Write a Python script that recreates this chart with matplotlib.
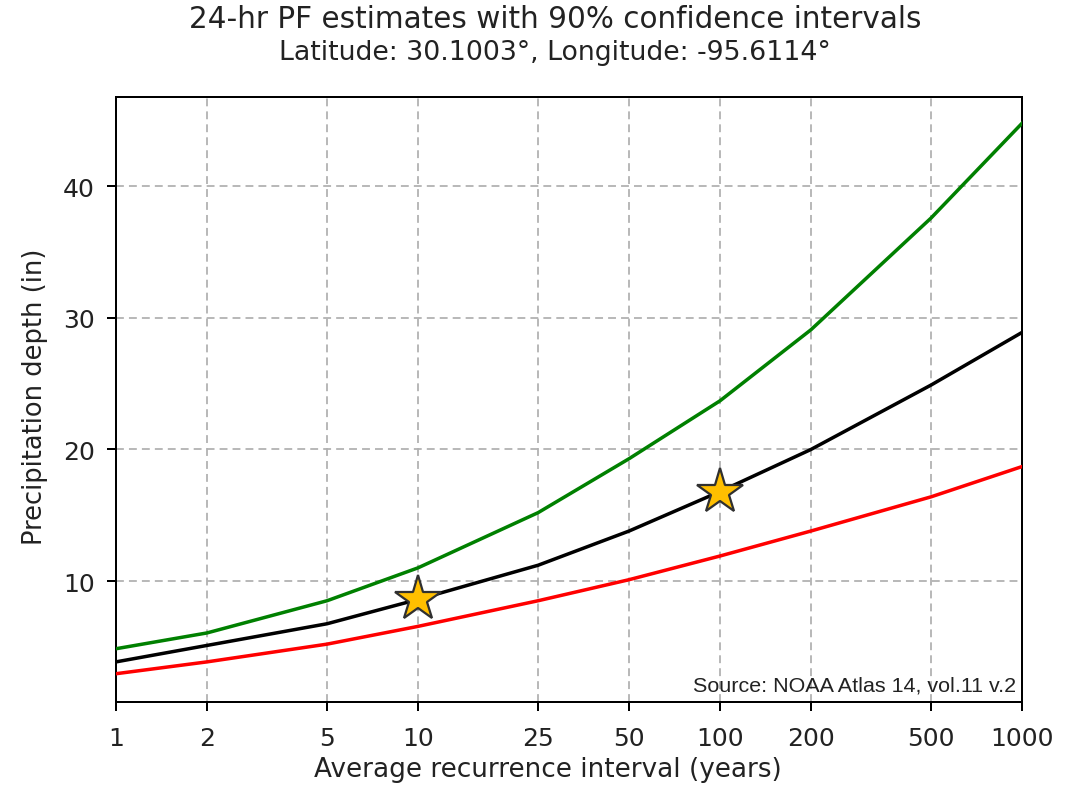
import matplotlib
matplotlib.use("Agg")
import matplotlib.pyplot as plt
from matplotlib.ticker import FixedLocator, FixedFormatter, NullLocator

ari = [1, 2, 5, 10, 25, 50, 100, 200, 500, 1000]
tick_labels = ["1", "2", "5", "10", "25", "50", "100", "200", "500", "1000"]
pf_mean = [3.85, 5.10, 6.75, 8.60, 11.2, 13.8, 16.8, 20.0, 24.9, 28.9]
pf_upper = [4.85, 6.05, 8.50, 11.0, 15.2, 19.3, 23.7, 29.1, 37.6, 44.8]
pf_lower = [2.95, 3.85, 5.20, 6.55, 8.50, 10.1, 11.9, 13.8, 16.4, 18.7]
star_ari = [10, 100]
star_depth = [8.6, 16.8]

DPI = 180
W, H = 1081, 786
fig = plt.figure(figsize=(W / DPI, H / DPI), dpi=DPI)
ax = fig.add_axes([116 / W, 1 - 703 / H, (1022 - 116) / W, (703 - 98) / H])

ax.plot(ari, pf_upper, color="green", lw=1.4, zorder=3)
ax.plot(ari, pf_mean, color="black", lw=1.4, zorder=3)
ax.plot(ari, pf_lower, color="red", lw=1.4, zorder=3)
ax.plot(star_ari, star_depth, linestyle="none", marker="*", markersize=19,
        markerfacecolor="#FFBF00", markeredgecolor="#303030", markeredgewidth=0.9, zorder=4)

ax.set_xscale("log")
ax.set_xlim(1, 1000)
ax.set_ylim(0.8, 46.8)
ax.xaxis.set_major_locator(FixedLocator(ari))
ax.xaxis.set_major_formatter(FixedFormatter(tick_labels))
ax.xaxis.set_minor_locator(NullLocator())
ax.set_yticks([10, 20, 30, 40])
ax.tick_params(axis="both", labelsize=10, length=3.5, width=0.8, colors="black", labelcolor="#222222")
ax.tick_params(axis="y", pad=5)
ax.tick_params(axis="x", pad=6)
ax.grid(True, linestyle=(0, (4.5, 2.9)), color="#b0b0b0", lw=0.7)
for s in ax.spines.values():
    s.set_linewidth(0.8)

ax.set_xlabel("Average recurrence interval (years)", fontsize=10.5, labelpad=2.5, color="#222222")
ax.xaxis.label.set_x((548 - 116) / 906)
ax.set_ylabel("Precipitation depth (in)", fontsize=10.3, labelpad=6, color="#222222")
ax.yaxis.label.set_y((703 - 396.5) / 605)

fig.text(555 / W, 1 - 19 / H, "24-hr PF estimates with 90% confidence intervals",
         ha="center", va="center", fontsize=11.8, color="#222222")
fig.text(555 / W, 1 - 53 / H, "Latitude: 30.1003\u00b0, Longitude: -95.6114\u00b0",
         ha="center", va="center", fontsize=10.7, color="#222222")

ax.text(0.9935, 0.012, "Source: NOAA Atlas 14, vol.11 v.2", transform=ax.transAxes,
        ha="right", va="bottom", fontsize=8.6, family="Liberation Sans", color="#222222")

fig.savefig("out.png", dpi=DPI)
